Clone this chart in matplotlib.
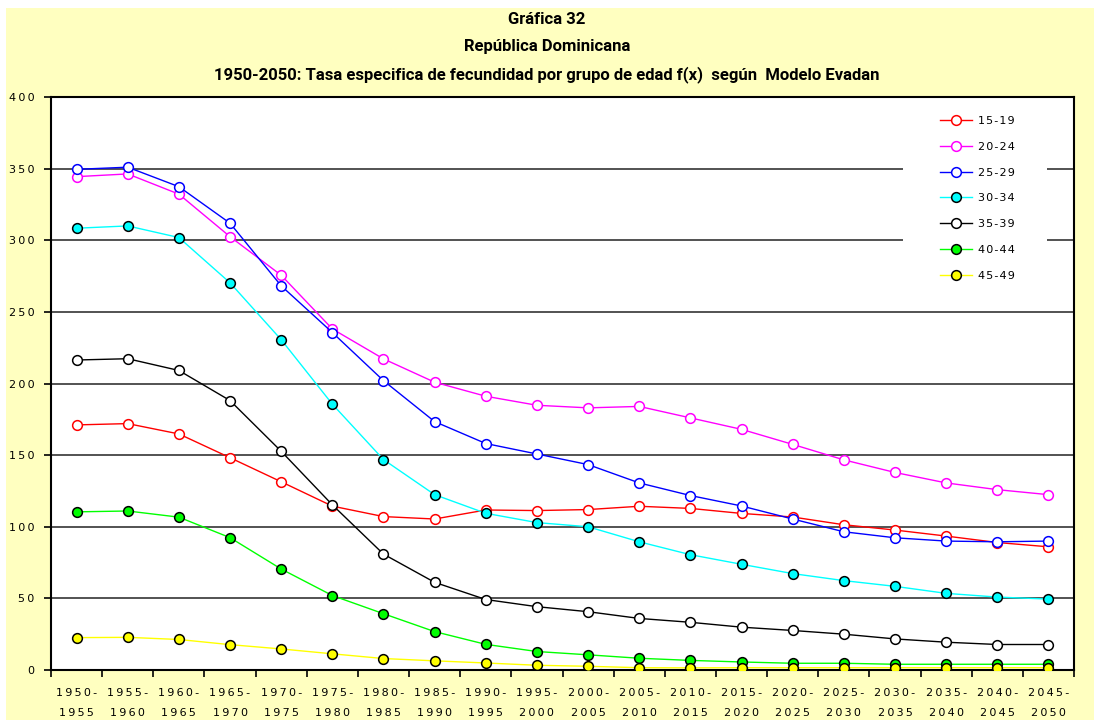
import matplotlib
matplotlib.use("Agg")
import matplotlib.pyplot as plt
from matplotlib.patches import Rectangle
from matplotlib.ticker import FixedLocator, NullFormatter

# Five-year periods 1950-2050
periods = ["1950-\n1955", "1955-\n1960", "1960-\n1965", "1965-\n1970", "1970-\n1975",
           "1975-\n1980", "1980-\n1985", "1985-\n1990", "1990-\n1995", "1995-\n2000",
           "2000-\n2005", "2005-\n2010", "2010-\n2015", "2015-\n2020", "2020-\n2025",
           "2025-\n2030", "2030-\n2035", "2035-\n2040", "2040-\n2045", "2045-\n2050"]

# Age-specific fertility rates f(x) per 1000 women
f_15_19 = [171.1, 172.0, 164.8, 148.2, 131.4, 114.4, 107.1, 105.4, 111.7, 111.3,
           112.0, 114.3, 112.8, 109.3, 106.8, 101.4, 97.7, 93.5, 89.0, 86.0]
f_20_24 = [344.4, 346.3, 332.2, 302.5, 275.6, 238.1, 217.2, 200.9, 191.1, 184.8,
           183.0, 184.0, 176.0, 168.0, 157.5, 146.7, 137.9, 130.6, 125.9, 122.4]
f_25_29 = [349.5, 351.0, 337.4, 311.9, 268.2, 235.6, 202.0, 173.4, 158.1, 150.8,
           143.4, 130.6, 121.8, 114.5, 105.4, 96.5, 92.3, 90.0, 89.5, 90.0]
f_30_34 = [308.4, 310.0, 301.9, 270.3, 230.6, 185.6, 146.9, 122.4, 109.4, 102.9,
           100.0, 89.5, 80.5, 73.8, 67.3, 62.4, 58.4, 53.5, 50.9, 49.5]
f_35_39 = [216.4, 217.3, 209.1, 188.1, 152.7, 115.3, 80.9, 61.2, 49.2, 44.2,
           40.7, 36.0, 33.3, 29.9, 27.6, 25.0, 21.7, 19.4, 17.8, 17.8]
f_40_44 = [110.4, 111.0, 106.7, 92.4, 70.5, 52.0, 39.3, 26.8, 17.9, 12.9,
           10.6, 8.2, 6.7, 5.6, 4.7, 4.7, 4.0, 4.0, 4.0, 4.0]
f_45_49 = [22.6, 22.8, 21.3, 17.7, 14.7, 11.3, 8.0, 6.4, 4.9, 3.3,
           2.6, 1.6, 1.5, 1.6, 1.6, 1.6, 1.6, 1.6, 1.6, 1.6]

age_groups = ["15-19", "20-24", "25-29", "30-34", "35-39", "40-44", "45-49"]
y_ticks = [0, 50, 100, 150, 200, 250, 300, 350, 400]

series = [f_15_19, f_20_24, f_25_29, f_30_34, f_35_39, f_40_44, f_45_49]
line_colors = ["#FF0000", "#FF00FF", "#0000FF", "#00FFFF", "#000000", "#00FF00", "#FFFF00"]
face_colors = ["white", "white", "white", "#00FFFF", "white", "#00FF00", "#FFFF00"]
edge_colors = ["#FF0000", "#FF00FF", "#0000FF", "black", "black", "black", "black"]


def spaced(s, gap="\u2009"):
    # letter-spaced label text
    return "\n".join(gap.join(part) for part in s.split("\n"))


fig = plt.figure(figsize=(10.94, 7.23), dpi=100)
fig.patch.set_facecolor("white")
fig.patches.append(Rectangle((6 / 1094, 3 / 723), 1088 / 1094, 712 / 723,
                             transform=fig.transFigure, facecolor="#FFFFC0",
                             edgecolor="none", zorder=-10))

ax = fig.add_axes([51 / 1094, 53 / 723, 1023 / 1094, 573 / 723])
ax.set_facecolor("white")

x = list(range(len(periods)))
for vals, lab, lc, fc, ec in zip(series, age_groups, line_colors, face_colors, edge_colors):
    ax.plot(x, vals, color=lc, lw=1.0, marker="o", markersize=7.0,
            markerfacecolor=fc, markeredgecolor=ec, markeredgewidth=1.1,
            label=spaced(lab, "\u200a"), zorder=3)

ax.set_xlim(-0.5, len(periods) - 0.5)
ax.set_ylim(0, 400)

for v in y_ticks[1:-1]:
    ax.axhline(v, color="#444444", lw=1.3, zorder=1)

# white panel behind the legend
ax.add_patch(Rectangle(((903 - 51) / 1023, (670 - 292) / 573), 144 / 1023, 190 / 573,
                       transform=ax.transAxes, facecolor="white", edgecolor="none",
                       zorder=2))

ax.set_yticks(y_ticks)
ax.set_yticklabels([spaced(str(v)) for v in y_ticks])
ax.tick_params(axis="y", direction="out", length=5, width=1.2, pad=7,
               labelsize=8, colors="black")

ax.xaxis.set_major_locator(FixedLocator(x))
ax.set_xticklabels([spaced(p) for p in periods], linespacing=2.2)
ax.xaxis.set_minor_locator(FixedLocator([i - 0.5 for i in range(len(periods) + 1)]))
ax.xaxis.set_minor_formatter(NullFormatter())
ax.tick_params(axis="x", which="major", length=0, pad=13, labelsize=8)
ax.tick_params(axis="x", which="minor", direction="out", length=5, width=1.2)

for sp in ax.spines.values():
    sp.set_color("black")
    sp.set_linewidth(1.5)

leg = ax.legend(loc="upper left", bbox_to_anchor=((940 - 51) / 1023, (670 - 116) / 573),
                frameon=False, fontsize=8, handlelength=2.9, handletextpad=0.5,
                labelspacing=1.42, borderpad=0, borderaxespad=0)
leg.set_zorder(5)

title_font = ["Roboto", "DejaVu Sans"]
title_kw = dict(ha="center", va="center", fontsize=12, fontweight="bold", family=title_font)
fig.text(0.5, 1 - 19 / 723, "Gráfica 32", **title_kw)
fig.text(0.5, 1 - 47 / 723, "República Dominicana", **title_kw)
fig.text(0.5, 1 - 75 / 723,
         "1950-2050: Tasa especifica de fecundidad por grupo de edad f(x)  según  Modelo Evadan",
         **title_kw)

fig.savefig("out.png", dpi=100, facecolor=fig.get_facecolor())
